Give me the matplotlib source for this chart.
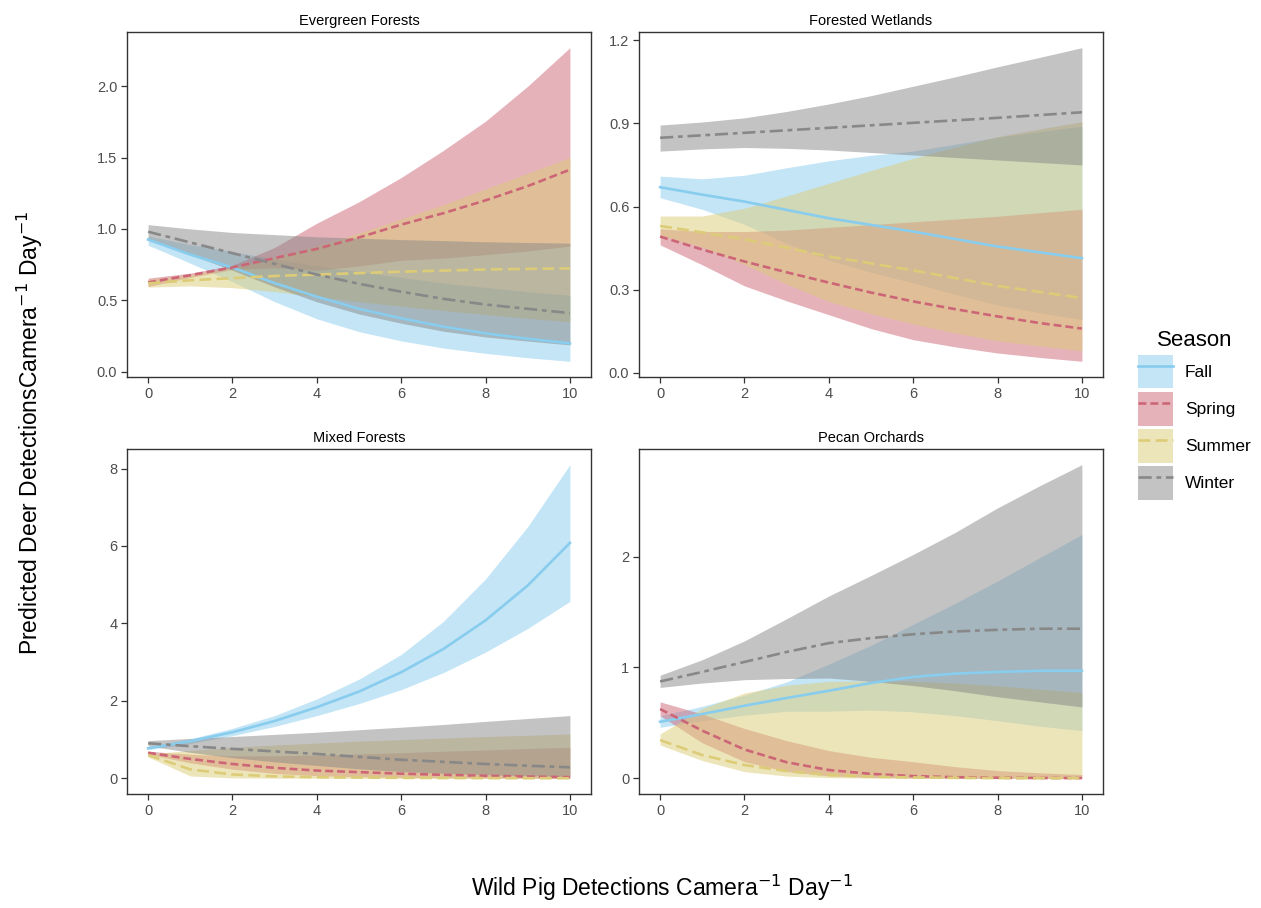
import matplotlib
matplotlib.use("Agg")
import matplotlib.pyplot as plt
from matplotlib.patches import Patch
from matplotlib.lines import Line2D
from matplotlib.legend_handler import HandlerTuple

plt.rcParams['font.family'] = ['Liberation Sans', 'DejaVu Sans']

# wild pig detections (x) shared by all panels
pig = [0, 1, 2, 3, 4, 5, 6, 7, 8, 9, 10]
seasons = ['Fall', 'Spring', 'Summer', 'Winter']
colors = ['#88CCEE', '#CC6677', '#DDCC77', '#888888']
dashes = [None, (3, 1.5), (4.5, 2), (5, 1.8, 1.8, 1.8)]

# Evergreen Forests  (rows: Fall, Spring, Summer, Winter)
ev_fit = [[0.925, 0.82, 0.73, 0.62, 0.525, 0.44, 0.373, 0.315, 0.268, 0.23, 0.198],
          [0.625, 0.675, 0.73, 0.795, 0.86, 0.94, 1.03, 1.11, 1.20, 1.30, 1.415],
          [0.618, 0.64, 0.655, 0.67, 0.68, 0.69, 0.70, 0.708, 0.715, 0.72, 0.723],
          [0.98, 0.905, 0.83, 0.755, 0.68, 0.615, 0.56, 0.51, 0.47, 0.44, 0.41]]
ev_lo = [[0.886, 0.76, 0.63, 0.49, 0.37, 0.28, 0.215, 0.165, 0.128, 0.097, 0.072],
         [0.596, 0.66, 0.715, 0.727, 0.71, 0.74, 0.78, 0.795, 0.82, 0.845, 0.88],
         [0.592, 0.60, 0.588, 0.561, 0.525, 0.49, 0.458, 0.428, 0.40, 0.373, 0.349],
         [0.932, 0.819, 0.71, 0.594, 0.489, 0.404, 0.339, 0.283, 0.243, 0.214, 0.187]]
ev_hi = [[0.95, 0.89, 0.84, 0.79, 0.74, 0.70, 0.66, 0.62, 0.59, 0.56, 0.535],
         [0.655, 0.69, 0.745, 0.87, 1.04, 1.19, 1.36, 1.55, 1.755, 2.0, 2.27],
         [0.645, 0.68, 0.73, 0.80, 0.88, 0.97, 1.07, 1.17, 1.28, 1.39, 1.50],
         [1.03, 1.0, 0.975, 0.96, 0.945, 0.935, 0.925, 0.918, 0.91, 0.905, 0.90]]

# Forested Wetlands
fw_fit = [[0.67, 0.643, 0.618, 0.588, 0.558, 0.534, 0.51, 0.483, 0.456, 0.435, 0.414],
          [0.492, 0.445, 0.402, 0.363, 0.326, 0.29, 0.258, 0.23, 0.204, 0.18, 0.16],
          [0.53, 0.507, 0.482, 0.452, 0.42, 0.395, 0.37, 0.342, 0.314, 0.292, 0.27],
          [0.848, 0.857, 0.866, 0.875, 0.884, 0.893, 0.902, 0.911, 0.92, 0.93, 0.94]]
fw_lo = [[0.632, 0.59, 0.536, 0.467, 0.407, 0.363, 0.325, 0.283, 0.245, 0.217, 0.193],
         [0.462, 0.39, 0.314, 0.26, 0.21, 0.16, 0.12, 0.094, 0.072, 0.056, 0.042],
         [0.496, 0.454, 0.391, 0.32, 0.258, 0.214, 0.177, 0.144, 0.116, 0.097, 0.08],
         [0.80, 0.808, 0.813, 0.81, 0.804, 0.795, 0.786, 0.777, 0.768, 0.759, 0.75]]
fw_hi = [[0.71, 0.70, 0.713, 0.74, 0.765, 0.785, 0.80, 0.825, 0.85, 0.87, 0.89],
         [0.52, 0.51, 0.51, 0.515, 0.525, 0.535, 0.545, 0.555, 0.565, 0.578, 0.59],
         [0.566, 0.566, 0.594, 0.638, 0.684, 0.73, 0.774, 0.815, 0.852, 0.88, 0.906],
         [0.894, 0.905, 0.92, 0.943, 0.97, 1.0, 1.034, 1.068, 1.104, 1.138, 1.173]]

# Mixed Forests
mf_fit = [[0.776, 0.96, 1.19, 1.48, 1.836, 2.24, 2.74, 3.34, 4.08, 4.98, 6.08],
          [0.66, 0.50, 0.37, 0.27, 0.20, 0.16, 0.12, 0.09, 0.065, 0.045, 0.03],
          [0.60, 0.23, 0.10, 0.05, 0.03, 0.02, 0.012, 0.008, 0.005, 0.003, 0.002],
          [0.905, 0.83, 0.76, 0.695, 0.63, 0.555, 0.48, 0.425, 0.37, 0.325, 0.285]]
mf_lo = [[0.74, 0.90, 1.10, 1.34, 1.62, 1.93, 2.29, 2.73, 3.26, 3.87, 4.57],
         [0.62, 0.40, 0.236, 0.126, 0.067, 0.04, 0.022, 0.012, 0.006, 0.003, 0.001],
         [0.55, 0.06, 0.01, 0.003, 0.001, 0.0, 0.0, 0.0, 0.0, 0.0, 0.0],
         [0.84, 0.67, 0.535, 0.425, 0.333, 0.245, 0.175, 0.13, 0.093, 0.068, 0.05]]
mf_hi = [[0.80, 1.02, 1.29, 1.62, 2.05, 2.56, 3.2, 4.05, 5.15, 6.5, 8.1],
         [0.70, 0.62, 0.58, 0.58, 0.60, 0.63, 0.66, 0.70, 0.73, 0.77, 0.80],
         [0.63, 0.72, 0.80, 0.86, 0.91, 0.96, 1.0, 1.04, 1.08, 1.11, 1.145],
         [0.974, 1.03, 1.08, 1.135, 1.19, 1.255, 1.32, 1.39, 1.47, 1.545, 1.62]]

# Pecan Orchards
po_fit = [[0.51, 0.58, 0.655, 0.725, 0.79, 0.86, 0.915, 0.945, 0.96, 0.97, 0.97],
          [0.625, 0.43, 0.26, 0.145, 0.075, 0.04, 0.02, 0.01, 0.005, 0.003, 0.002],
          [0.345, 0.21, 0.12, 0.065, 0.03, 0.015, 0.008, 0.004, 0.002, 0.001, 0.0005],
          [0.874, 0.96, 1.05, 1.14, 1.22, 1.265, 1.30, 1.325, 1.34, 1.35, 1.35]]
po_lo = [[0.46, 0.52, 0.57, 0.605, 0.606, 0.616, 0.60, 0.565, 0.52, 0.47, 0.43],
         [0.566, 0.32, 0.15, 0.062, 0.022, 0.008, 0.003, 0.001, 0.0004, 0.0, 0.0],
         [0.30, 0.16, 0.06, 0.02, 0.006, 0.002, 0.001, 0.0, 0.0, 0.0, 0.0],
         [0.82, 0.86, 0.89, 0.90, 0.905, 0.875, 0.837, 0.79, 0.736, 0.69, 0.644]]
po_hi = [[0.565, 0.65, 0.75, 0.87, 1.03, 1.2, 1.39, 1.58, 1.78, 1.99, 2.2],
         [0.69, 0.58, 0.45, 0.34, 0.25, 0.19, 0.15, 0.105, 0.07, 0.05, 0.035],
         [0.40, 0.63, 0.77, 0.84, 0.875, 0.88, 0.875, 0.86, 0.835, 0.805, 0.775],
         [0.93, 1.07, 1.24, 1.44, 1.645, 1.83, 2.02, 2.22, 2.44, 2.64, 2.83]]

panels = [
    ('Evergreen Forests', ev_fit, ev_lo, ev_hi, [0, 0.5, 1.0, 1.5, 2.0], '%.1f'),
    ('Forested Wetlands', fw_fit, fw_lo, fw_hi, [0, 0.3, 0.6, 0.9, 1.2], '%.1f'),
    ('Mixed Forests', mf_fit, mf_lo, mf_hi, [0, 2, 4, 6, 8], '%d'),
    ('Pecan Orchards', po_fit, po_lo, po_hi, [0, 1, 2], '%d'),
]

W, H = 1261, 908
fig = plt.figure(figsize=(W / 100, H / 100), dpi=100)
boxes = [(127, 32, 591, 377), (639, 32, 1103, 377),
         (127, 449, 591, 794), (639, 449, 1103, 794)]

for (title, fit, lo, hi, yt, fmt), (l, t, r, b) in zip(panels, boxes):
    ax = fig.add_axes([l / W, 1 - b / H, (r - l) / W, (b - t) / H])
    for i in range(4):
        ax.fill_between(pig, lo[i], hi[i], color=colors[i], alpha=0.5, lw=0)
    for i in range(4):
        ln, = ax.plot(pig, fit[i], color=colors[i], lw=1.9)
        if dashes[i]:
            ln.set_dashes(dashes[i])
    ax.set_xticks([0, 2, 4, 6, 8, 10])
    ax.set_yticks(yt)
    ax.set_yticklabels([fmt % v for v in yt])
    ax.tick_params(labelsize=10.5, labelcolor='#4D4D4D', color='#333333',
                   length=4, width=0.9, pad=3)
    for s in ax.spines.values():
        s.set_color('#333333')
        s.set_linewidth(1.0)
    ax.set_title(title, fontsize=10.5, pad=5)

fig.text(662 / W, 1 - 888 / H, 'Wild Pig Detections Camera$^{-1}$ Day$^{-1}$',
         ha='center', va='center', fontsize=16.5)
fig.text(30 / W, 1 - 433 / H, 'Predicted Deer DetectionsCamera$^{-1}$ Day$^{-1}$',
         ha='center', va='center', rotation=90, fontsize=16.5)

handles = []
for i in range(4):
    p = Patch(facecolor=colors[i], alpha=0.5, lw=0)
    ln = Line2D([], [], color=colors[i], lw=1.9)
    if dashes[i]:
        ln.set_dashes(dashes[i])
    handles.append((p, ln))
leg = fig.legend(handles, seasons, loc='center left',
                 bbox_to_anchor=(1138 / W, 1 - 415 / H), frameon=False,
                 fontsize=12.5, title='Season', title_fontsize=16,
                 handler_map={tuple: HandlerTuple(ndivide=1, pad=0)},
                 handlelength=2.0, handleheight=2.6, labelspacing=0.2,
                 handletextpad=0.7, borderpad=0, borderaxespad=0)

fig.savefig('out.png', dpi=100)
